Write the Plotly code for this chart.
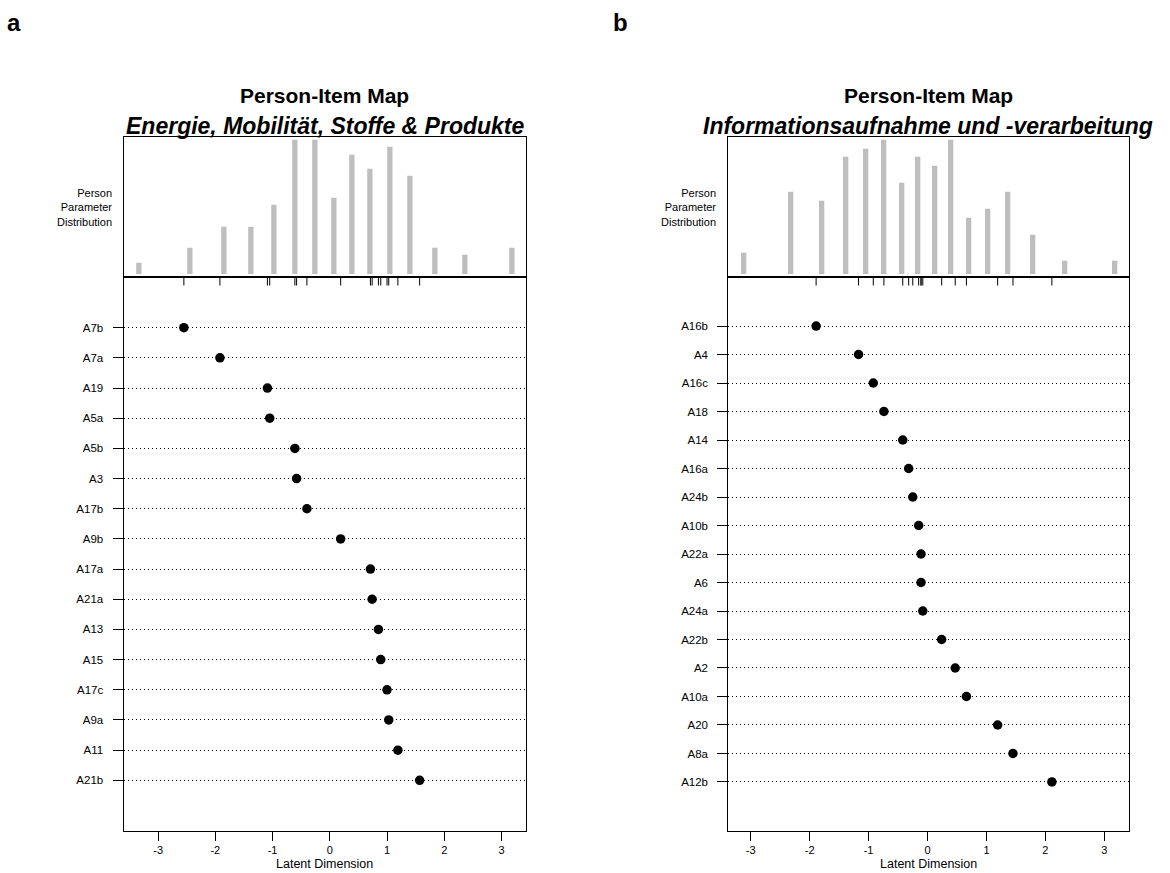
import plotly.graph_objects as go

# ---------------- data ----------------
# Panel a: Energie, Mobilität, Stoffe & Produkte
a_items = ["A7b", "A7a", "A19", "A5a", "A5b", "A3", "A17b", "A9b", "A17a", "A21a",
           "A13", "A15", "A17c", "A9a", "A11", "A21b"]
a_loc = [-2.55, -1.92, -1.09, -1.05, -0.61, -0.58, -0.40, 0.19, 0.71, 0.74,
         0.85, 0.89, 1.00, 1.03, 1.19, 1.57]
a_theta = [-3.34, -2.45, -1.85, -1.38, -0.98, -0.61, -0.26, 0.065, 0.39, 0.71,
           1.05, 1.41, 1.84, 2.37, 3.18]
a_count = [1, 3, 6, 6, 9, 18, 18, 10, 16, 14, 17, 13, 3, 2, 3]

# Panel b: Informationsaufnahme und -verarbeitung
b_items = ["A16b", "A4", "A16c", "A18", "A14", "A16a", "A24b", "A10b", "A22a", "A6",
           "A24a", "A22b", "A2", "A10a", "A20", "A8a", "A12b"]
b_loc = [-1.89, -1.17, -0.92, -0.74, -0.42, -0.32, -0.25, -0.15, -0.11, -0.11,
         -0.08, 0.24, 0.47, 0.66, 1.19, 1.45, 2.11]
b_theta = [-3.12, -2.32, -1.80, -1.39, -1.05, -0.74, -0.44, -0.16, 0.12, 0.40,
           0.70, 1.02, 1.37, 1.79, 2.33, 3.17]
b_count = [2, 9, 8, 13, 14, 15, 10, 13, 12, 15, 6, 7, 9, 4, 1, 1]

x_ticks = [-3, -2, -1, 0, 1, 2, 3]
x_ticktext = ["-3", "-2", "-1", "0", "1", "2", "3"]

# ---------------- layout geometry ----------------
W, H = 1170, 873
FONT = "Liberation Sans, Arial, Helvetica, sans-serif"
HIST_TOP, SPLIT, BOT = 137, 277, 831


def px_x(p):
    return p / W


def px_y(p):
    return 1 - p / H


panels = [
    dict(items=a_items, loc=a_loc, theta=a_theta, count=a_count,
         left=123.5, right=525.5, xr=[-3.605, 3.42], letter="a",
         sub="Energie, Mobilität, Stoffe & Produkte", letter_x=14),
    dict(items=b_items, loc=b_loc, theta=b_theta, count=b_count,
         left=728.3, right=1128.5, xr=[-3.38, 3.41], letter="b",
         sub="Informationsaufnahme und -verarbeitung", letter_x=620),
]

fig = go.Figure()
annotations = []
layout_axes = {}

for i, p in enumerate(panels):
    hx = 2 * i + 1      # hist axes index
    lx = 2 * i + 2      # lower axes index
    xdom = [px_x(p["left"]), px_x(p["right"])]
    n = len(p["items"])
    mcount = max(p["count"])
    hist_range = [-0.04 * mcount, 1.04 * mcount]
    low_range = [(n + 1) * 1.04, -0.04 * (n + 1)]   # reversed: first item on top
    unit_px = (BOT - SPLIT) / ((n + 1) * 1.08)
    xunit_px = (p["right"] - p["left"]) / (p["xr"][1] - p["xr"][0])

    xa_h = "x" if hx == 1 else f"x{hx}"
    ya_h = "y" if hx == 1 else f"y{hx}"
    xa_l = f"x{lx}"
    ya_l = f"y{lx}"

    # histogram of person parameters (R "h"-type bars with square ends)
    fig.add_trace(go.Bar(
        x=p["theta"], y=p["count"], xaxis=xa_h, yaxis=ya_h,
        width=1.0 / xunit_px,
        marker=dict(color="#BEBEBE", line=dict(color="#BEBEBE", width=4.3)),
        showlegend=False, hoverinfo="x+y",
    ))

    # rug of item locations at top of lower panel
    rx, ry = [], []
    top = low_range[1]
    for v in p["loc"]:
        rx += [v, v, None]
        ry += [top, top + 8.5 / unit_px, None]
    fig.add_trace(go.Scatter(
        x=rx, y=ry, xaxis=xa_l, yaxis=ya_l, mode="lines",
        line=dict(color="black", width=1), showlegend=False, hoverinfo="skip",
    ))

    # item difficulty points
    fig.add_trace(go.Scatter(
        x=p["loc"], y=list(range(1, n + 1)), xaxis=xa_l, yaxis=ya_l, mode="markers",
        marker=dict(color="black", size=9.5, line=dict(width=0)),
        text=p["items"], showlegend=False, hoverinfo="x+text",
    ))

    key_xh = "xaxis" if hx == 1 else f"xaxis{hx}"
    key_yh = "yaxis" if hx == 1 else f"yaxis{hx}"
    layout_axes[key_xh] = dict(
        domain=xdom, range=p["xr"], anchor=ya_h, showticklabels=False, ticks="",
        showgrid=False, zeroline=False, showline=True, mirror=True,
        linecolor="black", linewidth=1,
    )
    layout_axes[key_yh] = dict(
        domain=[px_y(SPLIT), px_y(HIST_TOP)], range=hist_range, anchor=xa_h,
        showticklabels=False, ticks="", showgrid=False, zeroline=False,
        showline=True, mirror=True, linecolor="black", linewidth=1,
    )
    layout_axes[f"xaxis{lx}"] = dict(
        domain=xdom, range=p["xr"], anchor=ya_l, tickvals=x_ticks, ticktext=x_ticktext,
        ticks="outside", ticklen=9, tickwidth=1, tickcolor="black",
        tickfont=dict(family=FONT, size=11, color="black"),
        showgrid=False, zeroline=False, showline=True, mirror=True,
        linecolor="black", linewidth=1,
    )
    layout_axes[f"yaxis{lx}"] = dict(
        domain=[px_y(BOT), px_y(SPLIT)], range=low_range, anchor=xa_l,
        tickvals=list(range(1, n + 1)), ticktext=p["items"],
        ticks="outside", ticklen=10, tickwidth=1, tickcolor="black",
        ticklabelstandoff=7,
        tickfont=dict(family=FONT, size=11.5, color="black"),
        showgrid=True, gridcolor="black", gridwidth=1, griddash="1px,3px",
        zeroline=False, showline=True, mirror=True, linecolor="black", linewidth=1,
    )

    cx = px_x((p["left"] + p["right"]) / 2)
    annotations += [
        dict(text="<b>Person-Item Map</b>", x=cx, y=px_y(95), xref="paper", yref="paper",
             xanchor="center", yanchor="middle", showarrow=False,
             font=dict(family=FONT, size=21, color="black")),
        dict(text=f"<b><i>{p['sub']}</i></b>", x=cx, y=px_y(126), xref="paper", yref="paper",
             xanchor="center", yanchor="middle", showarrow=False,
             font=dict(family=FONT, size=23, color="black")),
        dict(text=f"<b>{p['letter']}</b>", x=px_x(p["letter_x"]), y=px_y(22),
             xref="paper", yref="paper", xanchor="center", yanchor="middle",
             showarrow=False, font=dict(family=FONT, size=24, color="black")),
        dict(text="Person<br>Parameter<br>Distribution", x=px_x(p["left"] - 10), y=px_y(207),
             xref="paper", yref="paper", xanchor="right", yanchor="middle", align="right",
             showarrow=False, font=dict(family=FONT, size=11, color="black")),
        dict(text="Latent Dimension", x=cx, y=px_y(864), xref="paper", yref="paper",
             xanchor="center", yanchor="middle", showarrow=False,
             font=dict(family=FONT, size=12.5, color="black")),
    ]

fig.update_layout(
    width=W, height=H, margin=dict(l=0, r=0, t=0, b=0),
    paper_bgcolor="white", plot_bgcolor="white",
    font=dict(family=FONT, color="black"),
    bargap=0, showlegend=False, annotations=annotations,
    **layout_axes,
)

fig.write_html("out.html")
